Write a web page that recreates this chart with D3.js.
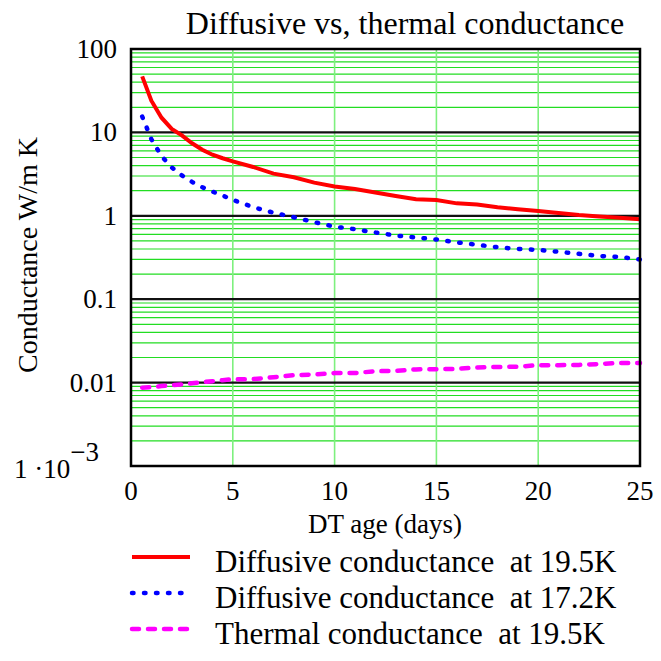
<!DOCTYPE html>
<html>
<head>
<meta charset="utf-8">
<script src="https://cdnjs.cloudflare.com/ajax/libs/d3/7.8.5/d3.min.js"></script>
<style>
  body { margin: 0; background: #fff; }
</style>
</head>
<body>
<svg id="chart"></svg>
<script>
// values
var days = [0.55, 1, 1.5, 2, 2.5, 3, 3.5, 4, 4.5, 5, 6, 7, 8, 9, 10, 11, 12, 13, 14, 15, 16, 17, 18, 19, 20, 21, 22, 23, 24, 25];
var diff195 = [47, 24, 15, 11, 9.2, 7.4, 6.2, 5.4, 4.9, 4.5, 3.85, 3.2, 2.9, 2.5, 2.25, 2.1, 1.9, 1.73, 1.58, 1.55, 1.41, 1.37, 1.27, 1.2, 1.14, 1.08, 1.02, 0.98, 0.95, 0.91];
var diff172 = [15.5, 8.3, 5.2, 3.8, 3.05, 2.55, 2.2, 1.95, 1.75, 1.55, 1.27, 1.09, 0.96, 0.84, 0.74, 0.69, 0.63, 0.58, 0.55, 0.52, 0.48, 0.45, 0.42, 0.40, 0.39, 0.37, 0.35, 0.33, 0.32, 0.30];
var therm195 = [0.0087, 0.0088, 0.0091, 0.0093, 0.0095, 0.0098, 0.0101, 0.0104, 0.0107, 0.011, 0.011, 0.0116, 0.0123, 0.0125, 0.013, 0.013, 0.0137, 0.0138, 0.0144, 0.0145, 0.0146, 0.0152, 0.0154, 0.0155, 0.0162, 0.0162, 0.0163, 0.0167, 0.0172, 0.0172];

var xTicks = [0, 5, 10, 15, 20, 25];
var yTicks = [100, 10, 1, 0.1, 0.01, 0.001];
var yTickLabels = ["100", "10", "1", "0.1", "0.01", ""];
var legendLabels = ["Diffusive conductance  at 19.5K", "Diffusive conductance  at 17.2K", "Thermal conductance  at 19.5K"];

var width = 661, height = 661;
var plotLeft = 131, plotRight = 640, plotTop = 49, plotBottom = 466;

var svg = d3.select("#chart").attr("width", width).attr("height", height)
  .style("font-family", "Liberation Serif");

var x = d3.scaleLinear().domain([0, 25]).range([plotLeft, plotRight]);
var y = d3.scaleLog().domain([0.001, 100]).range([plotBottom, plotTop]);

// minor horizontal grid (2..9 in each decade)
var minor = [];
yTicks.slice(1).forEach(function(d) {
  for (var k = 2; k <= 9; k++) minor.push(d * k);
});
svg.append("g").selectAll("line")
  .data(minor)
  .enter().append("line")
  .attr("x1", plotLeft).attr("x2", plotRight)
  .attr("y1", function(d) { return y(d); })
  .attr("y2", function(d) { return y(d); })
  .style("stroke", "#22dd22")
  .style("stroke-width", 1.2);

// vertical grid
svg.append("g").selectAll("line")
  .data(xTicks.slice(1, -1))
  .enter().append("line")
  .attr("y1", plotTop).attr("y2", plotBottom)
  .attr("x1", function(d) { return x(d); })
  .attr("x2", function(d) { return x(d); })
  .style("stroke", "#7ef07e")
  .style("stroke-width", 1.6);

// decade lines
svg.append("g").selectAll("line")
  .data(yTicks.slice(1, -1))
  .enter().append("line")
  .attr("x1", plotLeft).attr("x2", plotRight)
  .attr("y1", function(d) { return y(d); })
  .attr("y2", function(d) { return y(d); })
  .style("stroke", "#111")
  .style("stroke-width", 2.2);

// series
var line = function(vals) {
  return d3.line()
    .x(function(d, i) { return x(days[i]); })
    .y(function(d) { return y(d); })(vals);
};

svg.append("path").attr("d", line(diff195))
  .style("fill", "none").style("stroke", "#ff0000").style("stroke-width", 4);
svg.append("path").attr("d", line(diff172))
  .style("fill", "none").style("stroke", "#0000ff").style("stroke-width", 4.5)
  .style("stroke-linecap", "round").style("stroke-dasharray", "1.5,10.5");
svg.append("path").attr("d", line(therm195))
  .style("fill", "none").style("stroke", "#ff00ff").style("stroke-width", 4.5)
  .style("stroke-linecap", "round").style("stroke-dasharray", "7,9");

// frame
svg.append("rect")
  .attr("x", plotLeft).attr("y", plotTop)
  .attr("width", plotRight - plotLeft).attr("height", plotBottom - plotTop)
  .style("fill", "none").style("stroke", "#000").style("stroke-width", 2.5);

// y tick labels
svg.append("g").selectAll("text")
  .data(yTicks)
  .enter().append("text")
  .attr("x", 117)
  .attr("y", function(d) { return y(d) + 9; })
  .attr("text-anchor", "end")
  .style("font-size", "27px")
  .text(function(d, i) { return yTickLabels[i]; });

var expLabel = svg.append("text")
  .attr("x", 99)
  .attr("y", plotBottom + 12)
  .attr("text-anchor", "end")
  .style("font-size", "27px");
expLabel.append("tspan").text("1 \u00b710");
expLabel.append("tspan").attr("dy", -17).text("\u22123");

// x tick labels
svg.append("g").selectAll("text")
  .data(xTicks)
  .enter().append("text")
  .attr("x", function(d) { return x(d); })
  .attr("y", 500)
  .attr("text-anchor", "middle")
  .style("font-size", "27px")
  .text(function(d) { return d; });

// title and axis titles
svg.append("text")
  .attr("x", 405).attr("y", 34)
  .attr("text-anchor", "middle")
  .style("font-size", "32px")
  .text("Diffusive vs, thermal conductance");

svg.append("text")
  .attr("x", 385).attr("y", 533)
  .attr("text-anchor", "middle")
  .style("font-size", "27px")
  .text("DT age (days)");

svg.append("text")
  .attr("transform", "translate(37,255) rotate(-90)")
  .attr("text-anchor", "middle")
  .style("font-size", "28px")
  .text("Conductance W/m K");

// legend
var legendStyles = [
  { color: "#ff0000", dash: null, w: 4 },
  { color: "#0000ff", dash: "1.5,10.5", w: 4.5 },
  { color: "#ff00ff", dash: "7,9", w: 4.5 }
];
var legend = svg.append("g").selectAll("g")
  .data(legendLabels)
  .enter().append("g")
  .attr("transform", function(d, i) { return "translate(0," + (557 + i * 36) + ")"; });

legend.append("line")
  .attr("x1", 132).attr("x2", 190)
  .style("stroke", function(d, i) { return legendStyles[i].color; })
  .style("stroke-width", function(d, i) { return legendStyles[i].w; })
  .style("stroke-linecap", function(d, i) { return legendStyles[i].dash ? "round" : "butt"; })
  .style("stroke-dasharray", function(d, i) { return legendStyles[i].dash; });

legend.append("text")
  .attr("x", 215).attr("y", 15)
  .style("font-size", "31px")
  .style("white-space", "pre")
  .text(function(d) { return d; });
</script>
</body>
</html>
